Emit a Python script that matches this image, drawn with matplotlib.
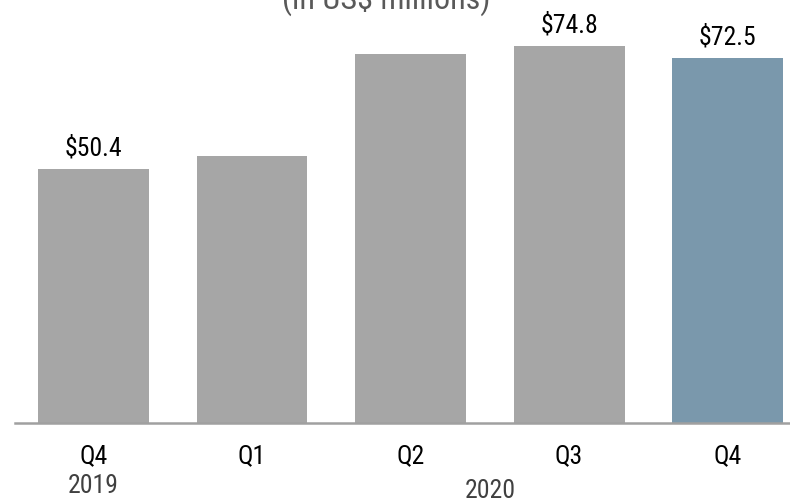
import matplotlib
matplotlib.use("Agg")
import matplotlib.pyplot as plt
import matplotlib.transforms as mtransforms

quarters = ["Q4", "Q1", "Q2", "Q3", "Q4"]
values = [50.4, 52.9, 73.2, 74.8, 72.5]
value_labels = ["$50.4", "", "", "$74.8", "$72.5"]
colors = ["#A6A6A6", "#A6A6A6", "#A6A6A6", "#A6A6A6", "#7A98AC"]
years = ["2019", "2020"]
year_pos = [0, 2.5]

plt.rcParams["font.family"] = ["Nimbus Sans Narrow", "Arial Narrow", "Liberation Sans Narrow",
                               "Roboto Condensed", "PT Sans Narrow", "Archivo Narrow",
                               "DejaVu Sans"]

W, H = 790, 499
fig = plt.figure(figsize=(W / 100, H / 100), dpi=100)
ax = fig.add_axes([0.019, 0.1533, 0.981, 0.8467])

x = list(range(len(values)))
ax.bar(x, values, width=0.70, color=colors, zorder=2)

# value labels above selected bars
for xi, v, lab in zip(x, values, value_labels):
    if lab:
        ax.annotate(lab, (xi, v), xytext=(0, 9.5), textcoords="offset points",
                    ha="center", va="baseline", fontsize=18.5, color="#000000")

ax.set_xlim(-0.495, 4.394)
ax.set_ylim(0, 83.95)
ax.set_xticks([])
ax.set_yticks([])
for s in ["top", "right", "left"]:
    ax.spines[s].set_visible(False)
ax.spines["bottom"].set_color("#A0A0A0")
ax.spines["bottom"].set_linewidth(1.8)
ax.patch.set_alpha(0)

trans = mtransforms.blended_transform_factory(ax.transData, fig.transFigure)
for xi, q in zip(x, quarters):
    ax.text(xi, 1 - 463 / H, q, transform=trans, ha="center", va="baseline",
            fontsize=18.5, color="#000000")

# year labels
ax.text(year_pos[0], 1 - 493 / H, years[0], transform=trans, ha="center", va="baseline",
        fontsize=18.5, color="#404040")
ax.text(year_pos[1], 1 - 498 / H, years[1], transform=trans, ha="center", va="baseline",
        fontsize=18.5, color="#404040")

fig.text(386 / W, 1 - 9 / H, "(in US$ millions)", ha="center", va="baseline",
         fontsize=23, color="#595959")

fig.savefig("out.png", dpi=100)
